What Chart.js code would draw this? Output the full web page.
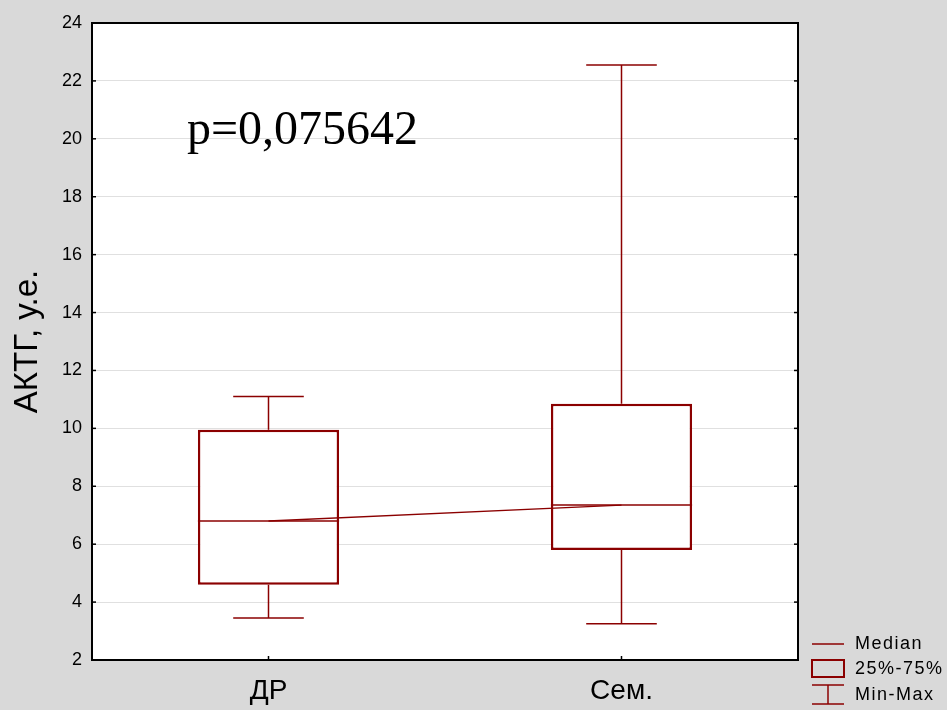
<!DOCTYPE html>
<html>
<head>
<meta charset="utf-8">
<script src="https://cdn.jsdelivr.net/npm/chart.js@4/dist/chart.umd.min.js"></script>
<style>
html, body { margin: 0; padding: 0; background: #d9d9d9; }
#wrap { width: 947px; height: 710px; }
</style>
</head>
<body>
<div id="wrap"><canvas id="chart"></canvas></div>
<script>
// данные
const groups = ["ДР", "Сем."];
const minVals = [3.45, 3.25];
const q1Vals = [4.6, 5.8];
const medianVals = [6.8, 7.35];
const q3Vals = [9.95, 10.85];
const maxVals = [11.1, 22.55];
const yMin = 2, yMax = 24, yStep = 2;
const pText = "p=0,075642";
const yTitle = "АКТГ, у.е.";
const legendLabels = ["Median", "25%-75%", "Min-Max"];

const red = "#8b0000";

const boxPlugin = {
    id: "boxPlugin",
    beforeDraw(chart) {
        const { ctx, chartArea: a } = chart;
        ctx.save();
        ctx.fillStyle = "#d9d9d9";
        ctx.fillRect(0, 0, chart.width, chart.height);
        ctx.fillStyle = "#ffffff";
        ctx.fillRect(a.left, a.top, a.right - a.left, a.bottom - a.top);
        ctx.restore();
    },
    afterDatasetsDraw(chart) {
        const { ctx, scales } = chart;
        const x = scales.x, y = scales.y;
        const catW = x.getPixelForValue(1) - x.getPixelForValue(0);
        const boxW = catW * 0.4;
        const capW = boxW / 2;
        ctx.save();
        ctx.strokeStyle = red;
        ctx.lineWidth = 1.5;
        const line = (x1, y1, x2, y2) => {
            ctx.beginPath(); ctx.moveTo(x1, y1); ctx.lineTo(x2, y2); ctx.stroke();
        };
        groups.forEach((g, i) => {
            const cx = x.getPixelForValue(i);
            // усы
            line(cx, y.getPixelForValue(q3Vals[i]), cx, y.getPixelForValue(maxVals[i]));
            line(cx, y.getPixelForValue(q1Vals[i]), cx, y.getPixelForValue(minVals[i]));
            line(cx - capW / 2, y.getPixelForValue(maxVals[i]), cx + capW / 2, y.getPixelForValue(maxVals[i]));
            line(cx - capW / 2, y.getPixelForValue(minVals[i]), cx + capW / 2, y.getPixelForValue(minVals[i]));
            // медиана
            line(cx - boxW / 2, y.getPixelForValue(medianVals[i]), cx + boxW / 2, y.getPixelForValue(medianVals[i]));
        });
        ctx.restore();
    },
    afterDraw(chart) {
        const { ctx, chartArea: a, scales } = chart;
        const x = scales.x, y = scales.y;
        ctx.save();
        // рамка
        ctx.strokeStyle = "#000";
        ctx.lineWidth = 2;
        ctx.strokeRect(a.left, a.top, a.right - a.left, a.bottom - a.top);
        // засечки внутрь
        ctx.lineWidth = 1.5;
        for (let v = yMin + yStep; v < yMax; v += yStep) {
            const py = y.getPixelForValue(v);
            ctx.beginPath(); ctx.moveTo(a.left, py); ctx.lineTo(a.left + 4, py); ctx.stroke();
            ctx.beginPath(); ctx.moveTo(a.right, py); ctx.lineTo(a.right - 4, py); ctx.stroke();
        }
        groups.forEach((g, i) => {
            const px = x.getPixelForValue(i);
            ctx.beginPath(); ctx.moveTo(px, a.bottom); ctx.lineTo(px, a.bottom - 4); ctx.stroke();
        });

        // p
        ctx.fillStyle = "#000";
        ctx.font = "48px 'Liberation Serif', 'Times New Roman', serif";
        ctx.textAlign = "left";
        ctx.textBaseline = "alphabetic";
        ctx.fillText(pText, a.left + 95, 144);

        // легенда
        const lx = 812, sw = 32, tx = 855;
        ctx.strokeStyle = red;
        ctx.lineWidth = 1.5;
        ctx.beginPath(); ctx.moveTo(lx, 644); ctx.lineTo(lx + sw, 644); ctx.stroke();
        ctx.lineWidth = 2;
        ctx.strokeRect(lx, 660, sw, 17);
        ctx.lineWidth = 1.5;
        ctx.beginPath(); ctx.moveTo(lx, 685); ctx.lineTo(lx + sw, 685); ctx.stroke();
        ctx.beginPath(); ctx.moveTo(lx, 704); ctx.lineTo(lx + sw, 704); ctx.stroke();
        ctx.beginPath(); ctx.moveTo(lx + sw / 2, 685); ctx.lineTo(lx + sw / 2, 704); ctx.stroke();

        ctx.fillStyle = "#000";
        ctx.font = "18px 'Liberation Sans', Arial, sans-serif";
        ctx.letterSpacing = "1.5px";
        ctx.textBaseline = "middle";
        ctx.fillText(legendLabels[0], tx, 644);
        ctx.fillText(legendLabels[1], tx, 669);
        ctx.fillText(legendLabels[2], tx, 695);
        ctx.restore();
    }
};

new Chart(document.getElementById("chart"), {
    data: {
        labels: groups,
        datasets: [
            {
                type: "line",
                data: medianVals,
                borderColor: red,
                borderWidth: 1.3,
                pointRadius: 0,
                fill: false,
                order: 0
            },
            {
                type: "bar",
                data: q1Vals.map((q, i) => [q, q3Vals[i]]),
                backgroundColor: "#ffffff",
                borderColor: red,
                borderWidth: 2.5,
                borderSkipped: false,
                barPercentage: 0.4,
                categoryPercentage: 1,
                order: 1
            }
        ]
    },
    options: {
        responsive: true,
        maintainAspectRatio: false,
        animation: false,
        layout: { padding: { left: 0, top: 23, right: 149, bottom: 0 } },
        plugins: { legend: { display: false }, tooltip: { enabled: false } },
        scales: {
            x: {
                type: "category",
                offset: true,
                grid: { display: false, drawTicks: false },
                border: { display: false },
                ticks: {
                    color: "#000",
                    padding: 14,
                    font: { family: "'Liberation Sans', Arial, sans-serif", size: 28 }
                },
                afterFit: (s) => { s.height = 50; }
            },
            y: {
                min: yMin,
                max: yMax,
                grid: { color: "#e0e0e0", lineWidth: 1, drawTicks: false },
                border: { display: false },
                ticks: {
                    stepSize: yStep,
                    color: "#000",
                    padding: 10,
                    font: { family: "'Liberation Sans', Arial, sans-serif", size: 18 }
                },
                title: {
                    display: true,
                    text: yTitle,
                    color: "#000",
                    padding: { top: 8, bottom: 0 },
                    font: { family: "'Liberation Sans', Arial, sans-serif", size: 33 }
                },
                afterFit: (s) => { s.width = 92; }
            }
        }
    },
    plugins: [boxPlugin]
});
</script>
</body>
</html>
